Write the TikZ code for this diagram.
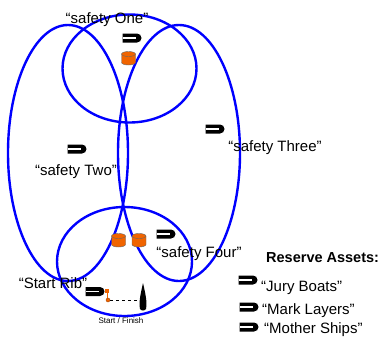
\documentclass[tikz,border=0pt]{standalone}
\usepackage{fontspec}
\setmainfont{Liberation Sans}
\usepackage{tikz}
\usetikzlibrary{shapes.misc}
\definecolor{buoyorange}{RGB}{240,100,0}
% orange buoy drawn round a named node
\newcommand{\drawbuoy}[1]{%
 \filldraw[fill=buoyorange, draw=black!60, line width=.4pt]
   ([shift={(-7pt,4pt)}]#1.center) -- ([shift={(-7pt,-4.5pt)}]#1.center)
   arc[start angle=180, end angle=360, x radius=7pt, y radius=2.5pt]
   -- ([shift={(7pt,4pt)}]#1.center)
   arc[start angle=0, end angle=180, x radius=7pt, y radius=2.5pt] -- cycle;
 \draw[black!60, line width=.4pt] ([shift={(-7pt,4pt)}]#1.center)
   arc[start angle=180, end angle=360, x radius=7pt, y radius=2.5pt];}

\begin{document}
\begin{tikzpicture}[x=1pt, y=-1pt,
  zone/.style={line width=2.4pt, blue},
  boat/.style={rounded rectangle, rounded rectangle left arc=none, fill=black, inner sep=0pt,
    minimum width=19pt, minimum height=9pt,
    path picture={\fill[white] ([yshift=-.8pt]path picture bounding box.west) rectangle ([xshift=-6pt,yshift=.8pt]path picture bounding box.east);}},
  buoy/.style={inner sep=0pt, minimum width=14pt, minimum height=14pt},
  lbl/.style={font=\fontsize{15}{18}\selectfont, inner sep=0pt}]
 \useasboundingbox (0,0) rectangle (385,338);
 \draw[zone] (129.5,68.5) ellipse [x radius=67pt, y radius=54pt];
 \draw[zone] (68,153) ellipse [x radius=60pt, y radius=128pt];
 \draw[zone] (179,153) ellipse [x radius=61pt, y radius=128pt];
 \draw[zone] (124.5,261.5) ellipse [x radius=67.5pt, y radius=54.5pt];
\node[boat] (one) at (132,38) {};
\node[buoy] (buoyA) at (128.5,58) {};
\node[boat] (two) at (77,149) {};
\node[boat] (three) at (215,129) {};
\node[boat] (four) at (166,234) {};
\node[buoy] (buoyB) at (118.5,240) {};
\node[buoy] (buoyC) at (139,240) {};
 \drawbuoy{buoyA}
 \drawbuoy{buoyB}
 \drawbuoy{buoyC}
\node[boat] (rib) at (95,291.5) {};
 \fill[buoyorange] (105,288.5) rectangle (108.5,292.5);
 \draw[buoyorange, line width=.8pt] (107.5,292) -- (107.5,299);
\node[circle, fill=buoyorange, draw=buoyorange!70!black, inner sep=0pt, minimum size=4pt] (pin) at (108,300) {};
 \fill (143,283) .. controls (145,292) and (147.5,302) .. (146,309)
   .. controls (145,311) and (141,311) .. (140,309)
   .. controls (138.5,302) and (141,292) .. (143,283);
\coordinate (finish) at (140,300);
 \draw[dashed] (pin) -- (finish);
\node[lbl] (tone) at (107,20) {“safety One”};
\node[lbl] (ttwo) at (76,172) {“safety Two”};
\node[lbl] (tthree) at (275,148) {“safety Three”};
\node[lbl] (tfour) at (199,254) {“safety Four”};
\node[lbl] (trib) at (53,283) {“Start Rib”};
\node[font=\fontsize{8}{9}\selectfont, inner sep=0pt] (tsf) at (121,321) {Start / Finish};
\node[lbl, font=\fontsize{14.5}{17}\selectfont\bfseries, anchor=west] (tres) at (266,258) {Reserve Assets:};
\node[boat] (jury) at (248,280) {};
\node[lbl, anchor=west] (tjury) at (261,288) {“Jury Boats”};
\node[boat] (layer) at (249,307) {};
\node[lbl, anchor=west] (tlayer) at (262,311) {“Mark Layers”};
\node[boat] (mother) at (249,327) {};
\node[lbl, anchor=west] (tmother) at (264,330) {“Mother Ships”};
 \end{tikzpicture}
\end{document}
